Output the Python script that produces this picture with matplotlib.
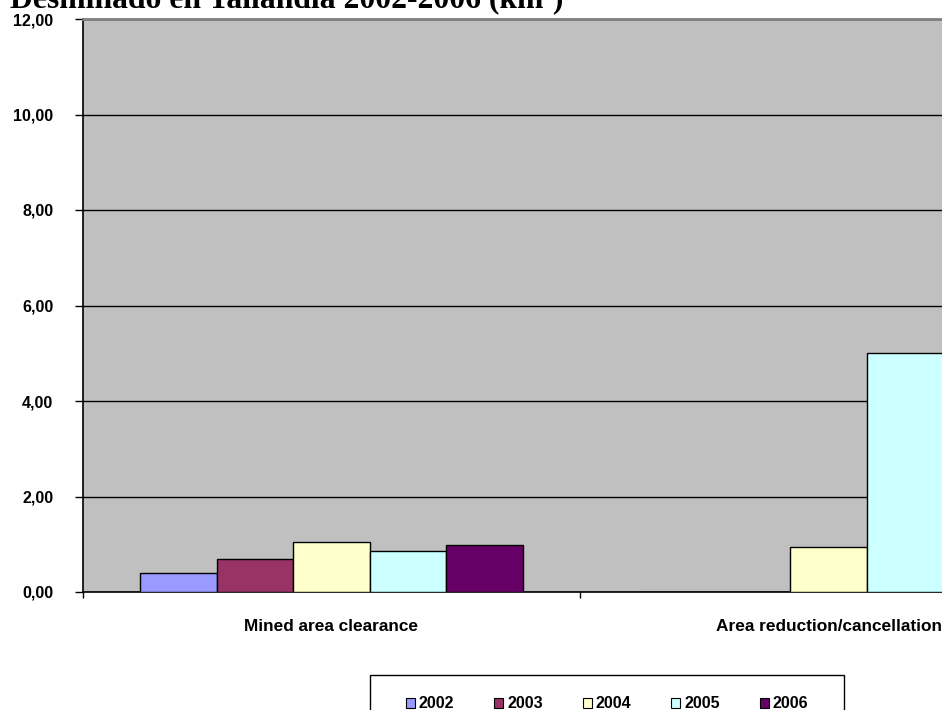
import numpy as np
import matplotlib
matplotlib.use("Agg")
import matplotlib.pyplot as plt
from matplotlib.patches import Patch, Rectangle

# data
categories = ["Mined area clearance", "Area reduction/cancellation"]
years = ["2002", "2003", "2004", "2005", "2006"]
v2002 = [0.40, 0.0]
v2003 = [0.70, 0.0]
v2004 = [1.04, 0.95]
v2005 = [0.85, 5.01]
v2006 = [0.98, 0.0]
colors = ["#9999FF", "#993366", "#FFFFCC", "#CCFFFF", "#660066"]
yticks = [0, 2, 4, 6, 8, 10, 12]

series = [v2002, v2003, v2004, v2005, v2006]

W, H = 942, 710
fig = plt.figure(figsize=(W / 100, H / 100), dpi=100)
fig.patch.set_facecolor("white")

# plot area runs past the right edge of the picture (cropped like the original)
left, right, top, bottom = 83, 1077, 19, 592
ax = fig.add_axes([left / W, 1 - bottom / H, (right - left) / W, (bottom - top) / H])
ax.set_facecolor("#C0C0C0")

x = np.arange(len(categories))
bw = 1 / 6.5
for i, (vals, c) in enumerate(zip(series, colors)):
    ax.bar(x + (i - 2) * bw, vals, width=bw, color=c, edgecolor="black", linewidth=1.0, zorder=3)

ax.set_xlim(-0.5, len(categories) - 0.5)
ax.set_ylim(0, 12)

lab_font = dict(family=["Liberation Sans", "DejaVu Sans"], weight="bold")

ax.set_yticks(yticks)
ax.set_yticklabels([f"{v:.2f}".replace(".", ",") for v in yticks], fontsize=11.5, **lab_font)
ax.tick_params(axis="y", direction="out", length=5.8, width=1, pad=15.5, color="black")

ax.set_xticks(np.arange(len(categories) + 1) - 0.5)
ax.set_xticklabels([])
ax.set_xticks(x, minor=True)
ax.set_xticklabels(categories, minor=True, fontsize=12.4, **lab_font)
ax.tick_params(axis="x", which="major", direction="out", length=4.5, width=1, color="black")
ax.tick_params(axis="x", which="minor", length=0, pad=19.5)

ax.set_axisbelow(True)
ax.yaxis.grid(True, color="black", linewidth=1.0)
ax.spines["left"].set_color("black")
ax.spines["left"].set_linewidth(1.2)
ax.spines["bottom"].set_color("black")
ax.spines["bottom"].set_linewidth(1.2)
ax.spines["top"].set_color("#808080")
ax.spines["top"].set_linewidth(2.0)
ax.spines["right"].set_color("#808080")

# title, partly cut at the top
title = fig.text(10 / W, 1 - 7.5 / H, "Desminado en Tailandia 2002-2006 (km²)",
                 fontsize=21, fontweight="bold",
                 family=["Liberation Serif", "DejaVu Serif"], va="baseline", ha="left")
fig.canvas.draw()
tw = title.get_window_extent().width
title.set_fontsize(21 * 553 / tw)

# legend box, cut at the bottom
fig.add_artist(Rectangle((370 / W, -0.1), 474 / W, 0.1 + 1 - 675 / H, transform=fig.transFigure,
                         fill=False, edgecolor="black", linewidth=1.0))
handles = [Patch(facecolor=c, edgecolor="black", linewidth=0.8) for c in colors]
fig.legend(handles, years, loc="center", bbox_to_anchor=(607 / W, 1 - 704 / H),
           ncol=5, frameon=False, borderpad=0, handlelength=0.56, handleheight=0.56,
           handletextpad=0.25, columnspacing=2.5,
           prop=dict(family=["Liberation Sans", "DejaVu Sans"], weight="bold", size=11.5))

fig.savefig("out.png", dpi=100)
